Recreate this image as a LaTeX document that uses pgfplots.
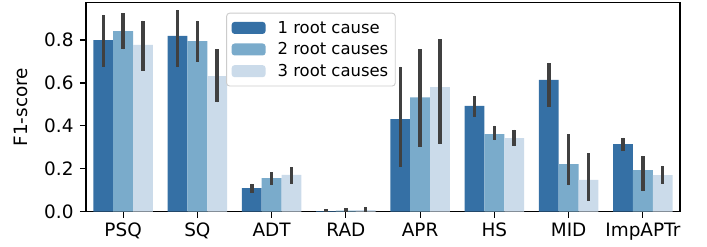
\documentclass[border=0pt]{standalone}
\usepackage{pgfplots}
\pgfplotsset{compat=1.18}
\usepackage{pgfplotstable}
\usepackage{fontspec}
\setmainfont{DejaVu Sans}
\definecolor{cA}{HTML}{3570A5}
\definecolor{cB}{HTML}{7AABCB}
\definecolor{cC}{HTML}{CBDBEA}
\definecolor{errc}{HTML}{404040}

% x, y, error plus, error minus
\pgfplotstableread{
x y ep em
0 0.800 0.117 0.124
1 0.819 0.121 0.143
2 0.110 0.020 0.021
3 0.003 0.008 0.003
4 0.432 0.244 0.222
5 0.493 0.045 0.050
6 0.614 0.079 0.126
7 0.315 0.030 0.032
}\one
\pgfplotstableread{
x y ep em
0 0.842 0.082 0.085
1 0.795 0.095 0.097
2 0.157 0.027 0.033
3 0.005 0.010 0.005
4 0.533 0.225 0.230
5 0.362 0.039 0.029
6 0.222 0.140 0.099
7 0.194 0.066 0.098
}\two
\pgfplotstableread{
x y ep em
0 0.777 0.113 0.120
1 0.632 0.125 0.122
2 0.172 0.036 0.044
3 0.007 0.015 0.007
4 0.581 0.222 0.266
5 0.343 0.039 0.037
6 0.148 0.124 0.097
7 0.171 0.042 0.041
}\three

\begin{document}
\begin{tikzpicture}
\useasboundingbox (-86bp,-35.3bp) rectangle (621bp,211.7bp);
\begin{axis}[
  scale only axis,
  width=594bp, height=209bp,
  xmin=-0.5, xmax=7.5,
  ymin=0, ymax=0.974,
  ybar=0pt, bar width=19.8bp,
  xtick={0,...,7},
  xticklabels={PSQ,SQ,ADT,RAD,APR,HS,MID,ImpAPTr},
  ytick={0,0.2,0.4,0.6,0.8},
  /pgf/number format/fixed,
  /pgf/number format/fixed zerofill,
  /pgf/number format/precision=1,
  /pgf/number format/assume math mode=true,
  tick label style={font=\fontsize{18.5}{22}\selectfont},
  ylabel={F1-score},
  ylabel style={font=\fontsize{18.5}{22}\selectfont, at={(axis description cs:0,0.5)}, anchor=south, yshift=55bp},
  axis line style={line width=1.2bp, black},
  tick style={line width=1.2bp, black},
  major tick length=6bp,
  tickpos=left,
  xtick align=outside, ytick align=outside,
  xticklabel style={yshift=-2bp},
  yticklabel style={xshift=-3bp},
  legend cell align=left,
  legend style={at={(0.236,0.952)}, anchor=north west,
    draw={rgb,255:red,204;green,204;blue,204}, rounded corners=3bp, line width=0.9bp,
    font=\fontsize{16.5}{20}\selectfont,
    row sep=4bp, inner xsep=5bp, inner ysep=6bp,
    /tikz/every odd column/.append style={column sep=10bp}},
  legend image code/.code={\fill[#1] (0bp,-6bp) rectangle (34bp,6bp);},
  error bars/y dir=both,
  error bars/y explicit,
  error bars/error mark=none,
  error bars/error bar style={line width=3.4bp, color=errc},
]
\addplot[fill=cA, draw=none] table[x=x,y=y,y error plus=ep,y error minus=em] {\one};
\addplot[fill=cB, draw=none] table[x=x,y=y,y error plus=ep,y error minus=em] {\two};
\addplot[fill=cC, draw=none] table[x=x,y=y,y error plus=ep,y error minus=em] {\three};
\legend{1 root cause, 2 root causes, 3 root causes}
\end{axis}
\end{tikzpicture}
\end{document}
